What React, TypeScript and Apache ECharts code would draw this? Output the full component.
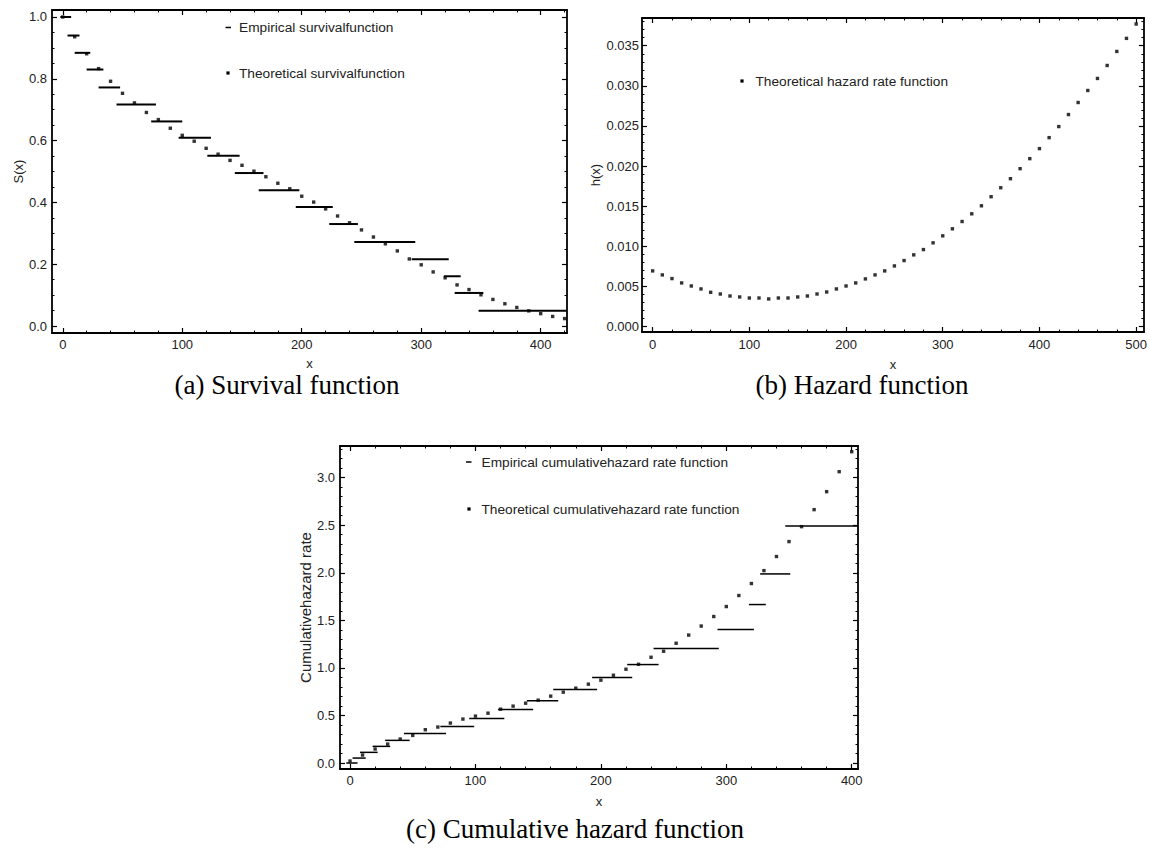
import React, { useEffect, useRef } from 'react';
import * as echarts from 'echarts';

// ---------- (a) Survival function ----------
const survX = [0, 10, 20, 30, 40, 50, 60, 70, 80, 90, 100, 110, 120, 130, 140, 150, 160, 170, 180, 190, 200,
  210, 220, 230, 240, 250, 260, 270, 280, 290, 300, 310, 320, 330, 340, 350, 360, 370, 380, 390, 400, 410, 420];
const survTheo = [1.0, 0.936, 0.881, 0.833, 0.792, 0.753, 0.722, 0.691, 0.668, 0.640, 0.617, 0.598, 0.575, 0.556,
  0.536, 0.520, 0.501, 0.483, 0.462, 0.444, 0.420, 0.401, 0.379, 0.356, 0.334, 0.311, 0.288, 0.266, 0.243, 0.217,
  0.198, 0.175, 0.156, 0.133, 0.118, 0.101, 0.086, 0.072, 0.060, 0.049, 0.040, 0.031, 0.024];
const survStepStart = [-2, 4, 10, 20, 30, 45, 74, 97, 121, 144, 164, 195, 223, 244, 292, 319, 328, 348];
const survStepEnd = [7, 14, 23, 34, 48, 78, 100, 124, 148, 168, 198, 226, 247, 295, 323, 333, 352, 422];
const survStepValue = [1.0, 0.940, 0.884, 0.830, 0.772, 0.717, 0.662, 0.609, 0.551, 0.495, 0.439, 0.385, 0.330,
  0.272, 0.216, 0.161, 0.107, 0.049];
const survXMajor = [0, 100, 200, 300, 400];
const survXMinor = [20, 40, 60, 80, 120, 140, 160, 180, 220, 240, 260, 280, 320, 340, 360, 380, 420];
const survYMajor = [0, 0.2, 0.4, 0.6, 0.8, 1.0];
const survYMinor = [0.05, 0.1, 0.15, 0.25, 0.3, 0.35, 0.45, 0.5, 0.55, 0.65, 0.7, 0.75, 0.85, 0.9, 0.95];

// ---------- (b) Hazard function ----------
const hazX = [0, 10, 20, 30, 40, 50, 60, 70, 80, 90, 100, 110, 120, 130, 140, 150, 160, 170, 180, 190, 200,
  210, 220, 230, 240, 250, 260, 270, 280, 290, 300, 310, 320, 330, 340, 350, 360, 370, 380, 390, 400,
  410, 420, 430, 440, 450, 460, 470, 480, 490, 500];
const hazTheo = [0.00692, 0.00642, 0.00596, 0.00542, 0.00504, 0.00467, 0.00425, 0.00404, 0.00379, 0.00367,
  0.00354, 0.00354, 0.00342, 0.00354, 0.00354, 0.00367, 0.00379, 0.00404, 0.00429, 0.00467, 0.00504,
  0.00542, 0.00592, 0.00642, 0.00692, 0.00754, 0.00821, 0.00892, 0.00958, 0.01042, 0.01129,
  0.01217, 0.01308, 0.01404, 0.01504, 0.01617, 0.01729, 0.01842, 0.01967, 0.02092, 0.02217,
  0.02354, 0.02492, 0.02642, 0.02792, 0.02942, 0.03092, 0.03254, 0.03429, 0.03592, 0.03771];
const hazXMajor = [0, 100, 200, 300, 400, 500];
const hazXMinor = [20, 40, 60, 80, 120, 140, 160, 180, 220, 240, 260, 280, 320, 340, 360, 380, 420, 440, 460, 480];
const hazYMajor = [0, 0.005, 0.01, 0.015, 0.02, 0.025, 0.03, 0.035];
const hazYMinor = [0.001, 0.002, 0.003, 0.004, 0.006, 0.007, 0.008, 0.009, 0.011, 0.012, 0.013, 0.014,
  0.016, 0.017, 0.018, 0.019, 0.021, 0.022, 0.023, 0.024, 0.026, 0.027, 0.028, 0.029, 0.031, 0.032,
  0.033, 0.034, 0.036, 0.037, 0.038];

// ---------- (c) Cumulative hazard function ----------
const cumX = [0, 10, 20, 30, 40, 50, 60, 70, 80, 90, 100, 110, 120, 130, 140, 150, 160, 170, 180, 190, 200,
  210, 220, 230, 240, 250, 260, 270, 280, 290, 300, 310, 320, 330, 340, 350, 360, 370, 380, 390, 400];
const cumTheo = [0.021, 0.084, 0.147, 0.199, 0.252, 0.290, 0.350, 0.378, 0.420, 0.462, 0.493, 0.524, 0.566,
  0.598, 0.629, 0.661, 0.703, 0.745, 0.787, 0.829, 0.871, 0.923, 0.986, 1.038, 1.112, 1.175, 1.259, 1.345,
  1.440, 1.540, 1.645, 1.761, 1.887, 2.023, 2.171, 2.328, 2.485, 2.664, 2.853, 3.063, 3.273];
const cumStepStart = [-3, 2, 8, 18, 28, 43, 72, 95, 118, 141, 162, 193, 221, 242, 293, 318, 327, 347];
const cumStepEnd = [6, 12.5, 22, 32, 47.5, 76.5, 99, 123, 146, 166, 197, 225, 246, 294, 322, 331.5, 351, 405];
const cumStepValue = [0.0, 0.052, 0.112, 0.175, 0.238, 0.311, 0.385, 0.469, 0.563, 0.654, 0.773, 0.899, 1.035,
  1.203, 1.405, 1.666, 1.988, 2.493];
const cumXMajor = [0, 100, 200, 300, 400];
const cumXMinor = [20, 40, 60, 80, 120, 140, 160, 180, 220, 240, 260, 280, 320, 340, 360, 380];
const cumYMajor = [0, 0.5, 1.0, 1.5, 2.0, 2.5, 3.0];
const cumYMinor = [0.1, 0.2, 0.3, 0.4, 0.6, 0.7, 0.8, 0.9, 1.1, 1.2, 1.3, 1.4, 1.6, 1.7, 1.8, 1.9,
  2.1, 2.2, 2.3, 2.4, 2.6, 2.7, 2.8, 2.9, 3.1, 3.2, 3.3];

const FONT = '"Liberation Sans", Arial, sans-serif';
const SERIF = '"Liberation Serif", "Times New Roman", serif';
const TXT = '#222';

function buildAxes(dim: 'x' | 'y', grid: number, min: number, max: number, majors: number[], minors: number[],
  name: string, nameGap: number, labelMargin: number, decimals: number, nameSize = 13) {
  const pos = dim === 'x' ? ['bottom', 'top'] : ['left', 'right'];
  const base = { type: 'value', gridIndex: grid, min, max, offset: 0, splitLine: { show: false } };
  const line = { show: true, onZero: false, lineStyle: { color: '#000', width: 1.8 } };
  const noLine = { show: false, onZero: false };
  const majTick = { show: true, inside: true, length: 5, customValues: majors, lineStyle: { color: '#000', width: 1.2 } };
  const minTick = { show: true, inside: true, length: 2.5, customValues: minors, lineStyle: { color: '#000', width: 1 } };
  return [
    {
      ...base, position: pos[0], name, nameLocation: 'middle', nameGap,
      nameTextStyle: { fontFamily: FONT, fontSize: nameSize, lineHeight: nameSize, color: TXT },
      axisLine: line, axisTick: majTick,
      axisLabel: {
        show: true, customValues: majors, margin: labelMargin, fontFamily: FONT, fontSize: 13, color: TXT,
        formatter: (v: number) => Number(v).toFixed(decimals),
      },
    },
    { ...base, position: pos[0], axisLine: noLine, axisTick: minTick, axisLabel: { show: false } },
    { ...base, position: pos[1], axisLine: line, axisTick: majTick, axisLabel: { show: false } },
    { ...base, position: pos[1], axisLine: noLine, axisTick: minTick, axisLabel: { show: false } },
  ];
}

function stepSeries(name: string, axisIndex: number, starts: number[], ends: number[], values: number[], width: number) {
  return {
    type: 'custom', name, xAxisIndex: axisIndex, yAxisIndex: axisIndex,
    data: starts.map((s, i) => [s, ends[i], values[i]]),
    encode: { x: [0, 1], y: 2 },
    renderItem: (_p: any, api: any) => {
      const a = api.coord([api.value(0), api.value(2)]);
      const b = api.coord([api.value(1), api.value(2)]);
      return { type: 'line', shape: { x1: a[0], y1: a[1], x2: b[0], y2: b[1] }, style: { stroke: '#000', lineWidth: width } };
    },
  };
}

function dotSeries(name: string, axisIndex: number, xs: number[], ys: number[]) {
  return {
    type: 'scatter', name, xAxisIndex: axisIndex, yAxisIndex: axisIndex,
    symbol: 'rect', symbolSize: 3.4, itemStyle: { color: '#000' },
    data: xs.map((x, i) => [x, ys[i]]),
  };
}

function legendText(x: number, y: number, text: string) {
  return { type: 'text', x, y, style: { text, fill: TXT, font: `13.7px ${FONT}`, verticalAlign: 'middle', textVerticalAlign: 'middle' } };
}
function legendDash(x: number, y: number) {
  return { type: 'line', shape: { x1: x, y1: y, x2: x + 5.5, y2: y }, style: { stroke: '#000', lineWidth: 1.5 } };
}
function legendDot(x: number, y: number) {
  return { type: 'rect', shape: { x: x - 1.6, y: y - 1.6, width: 3.2, height: 3.2 }, style: { fill: '#000' } };
}
function caption(x: number, y: number, text: string) {
  return {
    type: 'text', x, y,
    style: { text, fill: '#000', font: `27px ${SERIF}`, lineHeight: 27, align: 'center', textAlign: 'center', verticalAlign: 'middle', textVerticalAlign: 'middle' },
  };
}

export default function App() {
  const ref = useRef<HTMLDivElement>(null);
  useEffect(() => {
    if (!ref.current) return;
    const chart = echarts.init(ref.current, undefined, { renderer: 'svg' });
    const option: any = {
      animation: false,
      backgroundColor: '#fff',
      grid: [
        { left: 52, top: 10, width: 515, height: 323 },
        { left: 642, top: 18, width: 505, height: 314 },
        { left: 340, top: 446, width: 518, height: 323 },
      ],
      xAxis: [
        ...buildAxes('x', 0, -9, 422, survXMajor, survXMinor, 'x', 24, 5, 0),
        ...buildAxes('x', 1, -11, 508, hazXMajor, hazXMinor, 'x', 26, 6, 0),
        ...buildAxes('x', 2, -8, 405, cumXMajor, cumXMinor, 'x', 26, 5, 0),
      ],
      yAxis: [
        ...buildAxes('y', 0, -0.0226, 1.0226, survYMajor, survYMinor, 'S(x)', 27, 5, 1),
        ...buildAxes('y', 1, -0.0007, 0.03846, hazYMajor, hazYMinor, 'h(x)', 40, 3, 3),
        ...buildAxes('y', 2, -0.063, 3.333, cumYMajor, cumYMinor, 'Cumulativehazard rate', 26, 5, 1, 15),
      ],
      series: [
        stepSeries('Empirical survivalfunction', 0, survStepStart, survStepEnd, survStepValue, 2),
        dotSeries('Theoretical survivalfunction', 0, survX, survTheo),
        dotSeries('Theoretical hazard rate function', 4, hazX, hazTheo),
        stepSeries('Empirical cumulativehazard rate function', 8, cumStepStart, cumStepEnd, cumStepValue, 1.5),
        dotSeries('Theoretical cumulativehazard rate function', 8, cumX, cumTheo),
      ],
      graphic: [
        legendDash(225.5, 27.5), legendText(239, 27.5, 'Empirical survivalfunction'),
        legendDot(228, 73), legendText(239, 73.5, 'Theoretical survivalfunction'),
        legendDot(742, 81), legendText(755.5, 81, 'Theoretical hazard rate function'),
        legendDash(466, 462), legendText(481.5, 462, 'Empirical cumulativehazard rate function'),
        legendDot(469, 509), legendText(481.5, 509.5, 'Theoretical cumulativehazard rate function'),
        caption(287, 385, '(a) Survival function'),
        caption(862, 385, '(b) Hazard function'),
        caption(575, 829, '(c) Cumulative hazard function'),
      ],
    };
    chart.setOption(option);
    return () => chart.dispose();
  }, []);
  return <div ref={ref} style={{ position: 'absolute', left: 0, top: 0, width: 1150, height: 850 }} />;
}
